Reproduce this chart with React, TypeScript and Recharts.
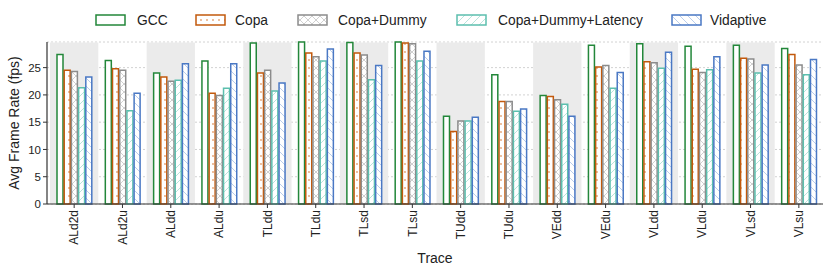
import { BarChart, Bar, XAxis, YAxis, CartesianGrid, ReferenceArea } from "recharts";

const categories = ["ALd2d", "ALd2u", "ALdd", "ALdu", "TLdd", "TLdu", "TLsd", "TLsu", "TUdd", "TUdu", "VEdd", "VEdu", "VLdd", "VLdu", "VLsd", "VLsu"];
const gcc = [27.4, 26.3, 24.0, 26.2, 29.5, 29.7, 29.6, 29.7, 16.1, 23.7, 19.9, 29.1, 29.4, 28.9, 29.1, 28.5];
const copa = [24.5, 24.8, 23.3, 20.3, 24.0, 27.7, 27.7, 29.5, 13.3, 18.8, 19.7, 25.1, 26.1, 24.7, 26.7, 27.4];
const copaDummy = [24.3, 24.5, 22.5, 19.9, 24.5, 27.0, 27.3, 29.4, 15.2, 18.8, 19.1, 25.4, 25.9, 24.1, 26.6, 25.5];
const copaDummyLatency = [21.3, 17.1, 22.7, 21.2, 20.7, 26.2, 22.8, 26.2, 15.2, 17.0, 18.3, 21.2, 24.9, 24.6, 24.0, 23.7];
const vidaptive = [23.3, 20.3, 25.7, 25.7, 22.2, 28.4, 25.4, 28.0, 15.9, 17.4, 16.1, 24.1, 27.8, 27.0, 25.5, 26.5];
const yTicks = [0, 5, 10, 15, 20, 25];

const series = [
  { key: "gcc", name: "GCC", color: "#23873a", pattern: "" },
  { key: "copa", name: "Copa", color: "#c2590c", pattern: "p-dots" },
  { key: "copaDummy", name: "Copa+Dummy", color: "#8c8c8c", pattern: "p-cross" },
  { key: "copaDummyLatency", name: "Copa+Dummy+Latency", color: "#5cbfae", pattern: "p-fwd" },
  { key: "vidaptive", name: "Vidaptive", color: "#4a78c4", pattern: "p-back" },
];

const data = categories.map((name, i) => ({
  name,
  gcc: gcc[i],
  copa: copa[i],
  copaDummy: copaDummy[i],
  copaDummyLatency: copaDummyLatency[i],
  vidaptive: vidaptive[i],
}));

const FONT = "'Liberation Sans', Arial, sans-serif";

function Patterns() {
  return (
    <defs>
      <pattern id="p-dots" width="6" height="8" patternUnits="userSpaceOnUse">
        <rect width="6" height="8" fill="#fff" />
        <circle cx="3" cy="4" r="0.9" fill="#e3a272" />
      </pattern>
      <pattern id="p-cross" width="8" height="8" patternUnits="userSpaceOnUse">
        <rect width="8" height="8" fill="#fff" />
        <path d="M0,0 L8,8 M8,0 L0,8" stroke="#c4c4c4" strokeWidth="0.8" />
      </pattern>
      <pattern id="p-fwd" width="8" height="8" patternUnits="userSpaceOnUse">
        <rect width="8" height="8" fill="#fff" />
        <path d="M0,8 L8,0 M-1,1 L1,-1 M7,9 L9,7" stroke="#a7dcd2" strokeWidth="0.8" />
      </pattern>
      <pattern id="p-back" width="8" height="8" patternUnits="userSpaceOnUse">
        <rect width="8" height="8" fill="#fff" />
        <path d="M0,0 L8,8 M-1,7 L1,9 M7,-1 L9,1" stroke="#a8c0e6" strokeWidth="0.8" />
      </pattern>
    </defs>
  );
}

// legend box and text x positions
const legendBoxX = [96, 196, 298, 457, 672];
const legendTextX = [137, 235, 338, 498, 710];

function TopLegend() {
  return (
    <svg width={831} height={36} style={{ position: "absolute", left: 0, top: 0 }}>
      <Patterns />
      {series.map((s, i) => (
        <g key={s.key}>
          <rect
            x={legendBoxX[i]}
            y={15}
            width={29}
            height={10}
            fill={s.pattern ? `url(#${s.pattern})` : "#fff"}
            stroke={s.color}
            strokeWidth={1.5}
          />
          <text x={legendTextX[i]} y={24.5} fontSize={13.8} fontFamily={FONT} fill="#222">
            {s.name}
          </text>
        </g>
      ))}
    </svg>
  );
}

function TraceTick({ x, y, payload }: any) {
  return (
    <g transform={`translate(${x},${y})`}>
      <text transform="rotate(-90)" x={0} y={0} dy={4.2} textAnchor="end" fontSize={12} fontFamily={FONT} fill="#222">
        {payload.value}
      </text>
    </g>
  );
}

export default function App() {
  return (
    <div style={{ position: "absolute", left: 0, top: 0, width: 831, height: 273, background: "#fff", fontFamily: FONT }}>
      <BarChart
        width={831}
        height={273}
        data={data}
        margin={{ top: 42, right: 8, left: 0, bottom: 0 }}
        barSize={6}
        barGap={1.2}
      >
        <Patterns />
        {categories.map((c, i) =>
          i % 2 === 0 ? (
            <ReferenceArea key={c} x1={c} x2={c} y1={0} y2={29.6} fill="#ebebeb" fillOpacity={1} stroke="none" ifOverflow="hidden" />
          ) : null
        )}
        <CartesianGrid vertical={false} stroke="#d2d2d2" strokeDasharray="2 2" />
        <XAxis
          dataKey="name"
          interval={0}
          tick={<TraceTick />}
          tickSize={4}
          tickLine={{ stroke: "#333" }}
          axisLine={{ stroke: "#333", strokeWidth: 1.2 }}
          height={69}
          padding={{ left: 3, right: 0 }}
          label={{ value: "Trace", position: "insideBottom", offset: 10, fontSize: 14, fontFamily: FONT, fill: "#222" }}
        />
        <YAxis
          domain={[0, 29.6]}
          ticks={yTicks}
          width={47}
          tickSize={4}
          tick={{ fontSize: 11.5, fontFamily: FONT, fill: "#222" }}
          tickLine={{ stroke: "#333" }}
          axisLine={{ stroke: "#333", strokeWidth: 1.2 }}
          label={{ value: "Avg Frame Rate (fps)", angle: -90, position: "insideLeft", offset: 14, style: { textAnchor: "middle" }, fontSize: 14, fontFamily: FONT, fill: "#222" }}
        />
        {series.map((s) => (
          <Bar
            key={s.key}
            dataKey={s.key}
            name={s.name}
            fill={s.pattern ? `url(#${s.pattern})` : "#fff"}
            stroke={s.color}
            strokeWidth={1.5}
            isAnimationActive={false}
          />
        ))}
      </BarChart>
      <TopLegend />
    </div>
  );
}
